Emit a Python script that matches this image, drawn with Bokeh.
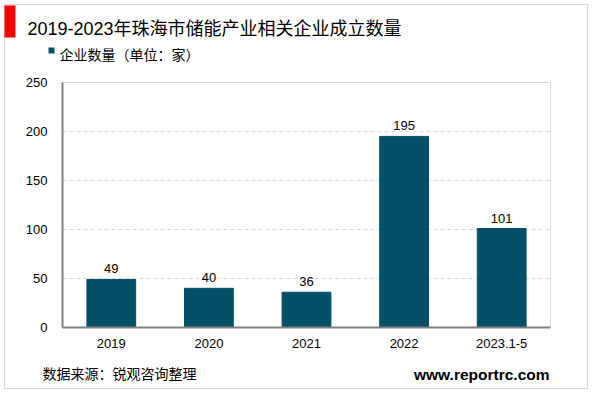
from bokeh.plotting import figure
from bokeh.layouts import column
from bokeh.models import ColumnDataSource, Range1d, FactorRange, FixedTicker
from bokeh.embed import file_html
from bokeh.resources import INLINE
from bokeh.core.properties import value

categories = ["2019", "2020", "2021", "2022", "2023.1-5"]
counts = [49, 40, 36, 195, 101]
y_ticks = [0, 50, 100, 150, 200, 250]

title_text = "2019-2023年珠海市储能产业相关企业成立数量"
legend_text = "企业数量（单位：家）"
source_text = "数据来源：锐观咨询整理"
site_text = "www.reportrc.com"

BAR = "#03506b"
W = 592
TOP_H, MID_H, BOT_H = 70, 285, 38
CJK = "'Liberation Sans', 'Noto Sans CJK SC'"


def blank(h):
    f = figure(width=W, height=h, x_range=Range1d(0, W), y_range=Range1d(h, 0),
               x_axis_type=None, y_axis_type=None, output_backend="svg",
               toolbar_location=None, min_border=0, frame_align=False)
    f.outline_line_color = None
    f.grid.visible = False
    f.background_fill_color = None
    f.border_fill_color = None
    return f


# ---- header (title + legend) ----
top = blank(TOP_H)
top.quad(left=[4], right=[15], top=[5], bottom=[37], fill_color="#ff0000", line_color=None)
top.quad(left=[48], right=[54], top=[47], bottom=[53], fill_color=BAR, line_color=None)
top.text(x=[27], y=[28], text=[title_text], text_font=value(CJK), text_font_size="18px",
         text_baseline="middle", text_color="#000000")
top.text(x=[59], y=[54], text=[legend_text], text_font=value(CJK), text_font_size="14px",
         text_baseline="middle", text_color="#000000")

# ---- chart ----
p = figure(width=W, height=MID_H, x_range=FactorRange(*categories), y_range=Range1d(0, 250),
           output_backend="svg", toolbar_location=None, frame_align=False,
           min_border_left=62, min_border_right=W - 550, min_border_top=12, min_border_bottom=28)
p.outline_line_color = "#d9d9d9"
p.border_fill_color = None
p.background_fill_color = "white"

src = ColumnDataSource(dict(x=categories, y=counts, lbl=[str(v) for v in counts]))
p.vbar(x="x", top="y", width=0.5, source=src, fill_color=BAR, line_color=BAR)
p.text(x="x", y="y", text="lbl", source=src, text_align="center", text_baseline="bottom",
       y_offset=-6, text_font_size="13px", text_color="#000000", text_font=value("Liberation Sans"))

p.yaxis.ticker = FixedTicker(ticks=y_ticks)
p.yaxis.major_tick_line_color = None
p.yaxis.minor_tick_line_color = None
p.yaxis.axis_line_color = "#808080"
p.yaxis.axis_line_width = 2
p.yaxis.major_label_text_font_size = "13px"
p.yaxis.major_label_text_font = "Liberation Sans"
p.yaxis.major_label_text_color = "#000000"
p.yaxis.major_label_standoff = 9

p.xaxis.major_tick_line_color = None
p.xaxis.minor_tick_line_color = None
p.xaxis.axis_line_color = "#808080"
p.xaxis.axis_line_width = 2
p.xaxis.major_label_text_font_size = "13px"
p.xaxis.major_label_text_font = "Liberation Sans"
p.xaxis.major_label_text_color = "#000000"
p.xaxis.major_label_standoff = 5

p.xgrid.grid_line_color = None
p.ygrid.grid_line_color = "#d9d9d9"
p.ygrid.grid_line_dash = "4 3"
p.ygrid.ticker = FixedTicker(ticks=y_ticks)

# ---- footer ----
bot = blank(BOT_H)
bot.text(x=[42], y=[18], text=[source_text], text_font=value(CJK), text_font_size="14px",
         text_baseline="middle", text_color="#000000")
bot.text(x=[549], y=[19], text=[site_text], text_font=value("Liberation Sans"),
         text_font_size="15.5px", text_font_style="bold", text_align="right",
         text_baseline="middle", text_color="#000000")

layout = column(top, p, bot, spacing=0, width=W,
                styles={"outline": "1px solid #d9d9d9", "outline-offset": "-5px",
                        "background-color": "white"})

open("out.html", "w").write(file_html(layout, INLINE))
